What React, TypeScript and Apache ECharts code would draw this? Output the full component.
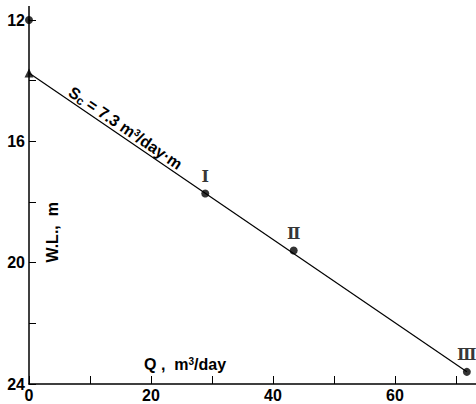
import React, { useEffect, useRef } from 'react';
import * as echarts from 'echarts';

const yLabelValues = [12, 16, 20, 24];
const xLabelValues = [0, 20, 40, 60];
const trendLine = [[0, 13.75], [71.8, 23.6]];
const wellPoints = [[28.9, 17.72], [43.4, 19.6], [71.8, 23.6]];
const wellNames = ['Ⅰ', 'Ⅱ', 'Ⅲ'];
const topPoint = [[0, 12]];
const startPoint = [[0, 13.75]];
const scLabelAt = 15;
const yAxisTitle = 'W.L.,  m';

const FONT = 'Liberation Sans';

export default function App() {
  const ref = useRef<HTMLDivElement>(null);
  useEffect(() => {
    const chart = echarts.init(ref.current!, null, { renderer: 'svg' });
    const option: any = {
      animation: false,
      backgroundColor: '#fff',
      grid: { left: 29, top: 20, right: 0, bottom: 20, containLabel: false },
      xAxis: {
        type: 'value', min: 0, max: 73.3, interval: 10,
        axisLine: { lineStyle: { color: '#000', width: 1.5 } },
        axisTick: { inside: true, length: 8, lineStyle: { color: '#000', width: 1 } },
        splitLine: { show: false },
        axisLabel: {
          margin: 3, color: '#000', fontFamily: FONT, fontWeight: 'bold', fontSize: 16,
          showMaxLabel: false,
          formatter: (v: number) => (xLabelValues.includes(v) ? String(v) : ''),
        },
      },
      yAxis: {
        type: 'value', min: 12, max: 24, interval: 2, inverse: true,
        axisLine: { lineStyle: { color: '#000', width: 1.5 } },
        axisTick: { inside: true, length: 7, lineStyle: { color: '#000', width: 1 } },
        splitLine: { show: false },
        axisLabel: {
          margin: 4, color: '#000', fontFamily: FONT, fontWeight: 'bold', fontSize: 16,
          formatter: (v: number) => (yLabelValues.includes(v) ? String(v) : ''),
        },
      },
      series: [
        {
          type: 'line', data: trendLine, showSymbol: false, symbol: 'none',
          lineStyle: { color: '#000', width: 1.2 }, clip: false,
        },
        {
          type: 'scatter', data: wellPoints.map((p, i) => ({ value: p, name: wellNames[i] })),
          symbol: 'circle', symbolSize: 8, itemStyle: { color: '#000' }, clip: false,
          label: {
            show: true, position: 'top', distance: 5, formatter: (p: any) => p.name,
            color: '#000', fontFamily: 'DejaVu Serif', fontWeight: 'bold', fontSize: 16,
          },
        },
        {
          type: 'scatter', data: topPoint, symbol: 'circle', symbolSize: 8,
          itemStyle: { color: '#000' }, clip: false,
        },
        {
          type: 'scatter', data: startPoint, symbol: 'triangle', symbolSize: 9,
          itemStyle: { color: '#000' }, clip: false,
        },
      ],
    };
    chart.setOption(option);

    const p0 = chart.convertToPixel({ gridIndex: 0 }, trendLine[0]) as number[];
    const p1 = chart.convertToPixel({ gridIndex: 0 }, trendLine[1]) as number[];
    const ang = Math.atan2(p1[1] - p0[1], p1[0] - p0[0]);
    const slope = (trendLine[1][1] - trendLine[0][1]) / (trendLine[1][0] - trendLine[0][0]);
    const pc = chart.convertToPixel({ gridIndex: 0 }, [scLabelAt, trendLine[0][1] + slope * scLabelAt]) as number[];
    const top = chart.convertToPixel({ gridIndex: 0 }, [0, 12]) as number[];
    const wl = chart.convertToPixel({ gridIndex: 0 }, [3.8, 19.0]) as number[];
    const q = chart.convertToPixel({ gridIndex: 0 }, [25.6, 23.35]) as number[];

    chart.setOption({
      graphic: [
        {
          type: 'line', shape: { x1: top[0], y1: top[1] - 14, x2: top[0], y2: top[1] },
          style: { stroke: '#000', lineWidth: 1.5 },
        },
        {
          type: 'text', x: pc[0], y: pc[1], rotation: -ang,
          style: {
            x: 0, y: -1,
            text: '{n|S}{s|c}{n| = 7.3 m}{p|3}{n|/day·m}',
            align: 'center', verticalAlign: 'bottom',
            rich: {
              n: { fontFamily: FONT, fontWeight: 'bold', fontSize: 16, fill: '#000', verticalAlign: 'bottom' },
              s: { fontFamily: FONT, fontWeight: 'bold', fontSize: 12, fill: '#000', verticalAlign: 'bottom', padding: [0, 0, -1, 0] },
              p: { fontFamily: FONT, fontWeight: 'bold', fontSize: 10, fill: '#000', verticalAlign: 'top', padding: [0, 0, 6, 0] },
            },
          },
        },
        {
          type: 'text', x: wl[0], y: wl[1], rotation: Math.PI / 2,
          style: {
            text: yAxisTitle, align: 'center', verticalAlign: 'middle',
            fontFamily: FONT, fontWeight: 'bold', fontSize: 16, fill: '#000',
          },
        },
        {
          type: 'text', x: q[0], y: q[1],
          style: {
            text: '{n|Q ,  m}{p|3}{n|/day}', align: 'center', verticalAlign: 'middle',
            rich: {
              n: { fontFamily: FONT, fontWeight: 'bold', fontSize: 16, fill: '#000' },
              p: { fontFamily: FONT, fontWeight: 'bold', fontSize: 10, fill: '#000', padding: [0, 0, 6, 0] },
            },
          },
        },
      ],
    });
    return () => chart.dispose();
  }, []);
  return <div ref={ref} style={{ position: 'fixed', left: 0, top: 0, width: 476, height: 404 }} />;
}
